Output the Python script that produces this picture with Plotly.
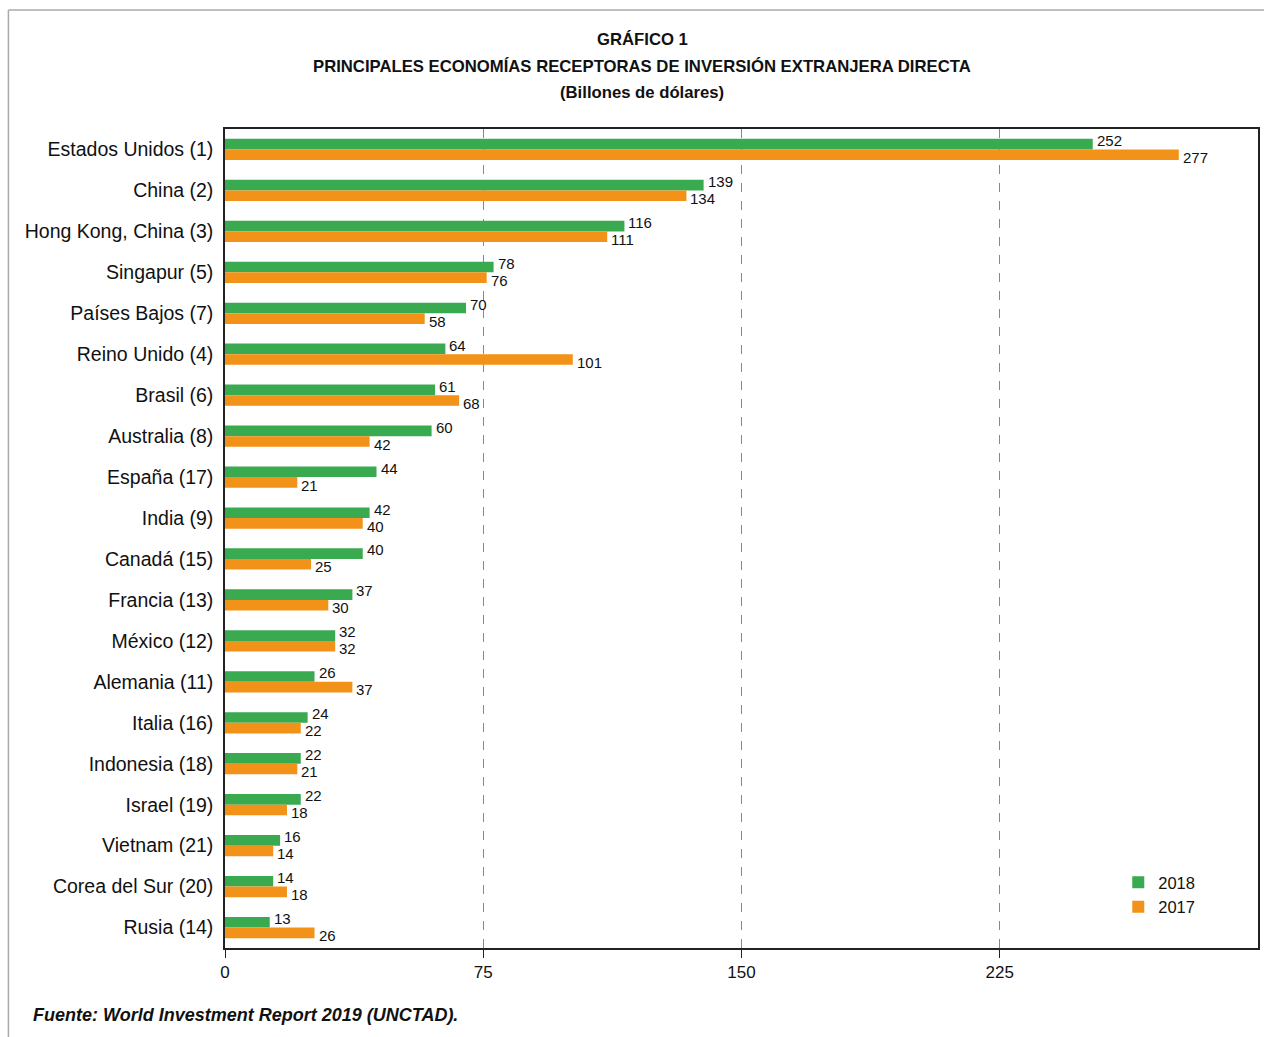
import plotly.graph_objects as go

categories = ["Estados Unidos (1)", "China (2)", "Hong Kong, China (3)", "Singapur (5)",
              "Países Bajos (7)", "Reino Unido (4)", "Brasil (6)", "Australia (8)",
              "España (17)", "India (9)", "Canadá (15)", "Francia (13)", "México (12)",
              "Alemania (11)", "Italia (16)", "Indonesia (18)", "Israel (19)",
              "Vietnam (21)", "Corea del Sur (20)", "Rusia (14)"]
values_2018 = [252, 139, 116, 78, 70, 64, 61, 60, 44, 42, 40, 37, 32, 26, 24, 22, 22, 16, 14, 13]
values_2017 = [277, 134, 111, 76, 58, 101, 68, 42, 21, 40, 25, 30, 32, 37, 22, 21, 18, 14, 18, 26]
tick_vals = [0, 75, 150, 225]

GREEN = "rgb(58,170,80)"
ORANGE = "rgb(243,146,25)"
FONT = "Liberation Sans, Arial, Helvetica, sans-serif"

fig = go.Figure()
fig.add_trace(go.Bar(y=categories, x=values_2018, orientation="h", name="2018",
                     marker=dict(color=GREEN, line=dict(width=0))))
fig.add_trace(go.Bar(y=categories, x=values_2017, orientation="h", name="2017",
                     marker=dict(color=ORANGE, line=dict(width=0))))

annotations = []
for c, v in zip(categories, values_2018):
    annotations.append(dict(x=v, y=c, xref="x", yref="y", text=str(v), showarrow=False,
                            xanchor="left", yanchor="middle", xshift=2, yshift=9,
                            font=dict(size=15, color="#111", family=FONT)))
for c, v in zip(categories, values_2017):
    annotations.append(dict(x=v, y=c, xref="x", yref="y", text=str(v), showarrow=False,
                            xanchor="left", yanchor="middle", xshift=2, yshift=-8,
                            font=dict(size=15, color="#111", family=FONT)))

title_lines = [("GRÁFICO 1", 40), ("PRINCIPALES ECONOMÍAS RECEPTORAS DE INVERSIÓN EXTRANJERA DIRECTA", 66),
               ("(Billones de dólares)", 93)]
for txt, py in title_lines:
    annotations.append(dict(x=(643 - 225) / 1035, y=(948 - py) / 819, xref="paper", yref="paper",
                            text="<b>" + txt + "</b>", showarrow=False, xanchor="center",
                            yanchor="middle", font=dict(size=16.7, color="#111", family=FONT)))
annotations.append(dict(x=(31 - 225) / 1035, y=(948 - 1015) / 819, xref="paper", yref="paper",
                        text="<b><i>Fuente: World Investment Report 2019 (UNCTAD).</i></b>",
                        showarrow=False, xanchor="left", yanchor="middle",
                        font=dict(size=18, color="#111", family=FONT)))

shapes = [
    dict(type="line", xref="paper", yref="paper", x0=(8 - 225) / 1035, x1=(1266 - 225) / 1035,
         y0=(948 - 10) / 819, y1=(948 - 10) / 819, line=dict(color="#aaaaaa", width=1.5)),
    dict(type="line", xref="paper", yref="paper", x0=(8 - 225) / 1035, x1=(8 - 225) / 1035,
         y0=(948 - 10) / 819, y1=(948 - 1037) / 819, line=dict(color="#aaaaaa", width=1.5)),
]

fig.update_layout(
    width=1266, height=1037,
    margin=dict(l=225, r=6, t=129, b=89),
    paper_bgcolor="white", plot_bgcolor="white",
    barmode="group", bargap=0.48, bargroupgap=0,
    font=dict(family=FONT, color="#111"),
    showlegend=True,
    legend=dict(x=(1120 - 225) / 1035, y=(948 - 865) / 819, xanchor="left", yanchor="top",
                font=dict(size=16.5, family=FONT), bgcolor="rgba(0,0,0,0)",
                itemwidth=30, tracegroupgap=0),
    annotations=annotations,
    shapes=shapes,
    xaxis=dict(range=[0, 300], tickvals=tick_vals, ticks="outside", ticklen=8, tickcolor="#222",
               showgrid=True, gridcolor="#888888", griddash="dash", gridwidth=1,
               showline=True, linecolor="#222", linewidth=1.5, mirror=True, zeroline=False,
               tickfont=dict(size=17, family=FONT)),
    yaxis=dict(autorange="reversed", showline=True, linecolor="#222", linewidth=1.5, mirror=True,
               ticks="", ticklen=0, ticklabelstandoff=6, tickfont=dict(size=19.5, family=FONT),
               showgrid=False),
)

fig.write_html("out.html")
